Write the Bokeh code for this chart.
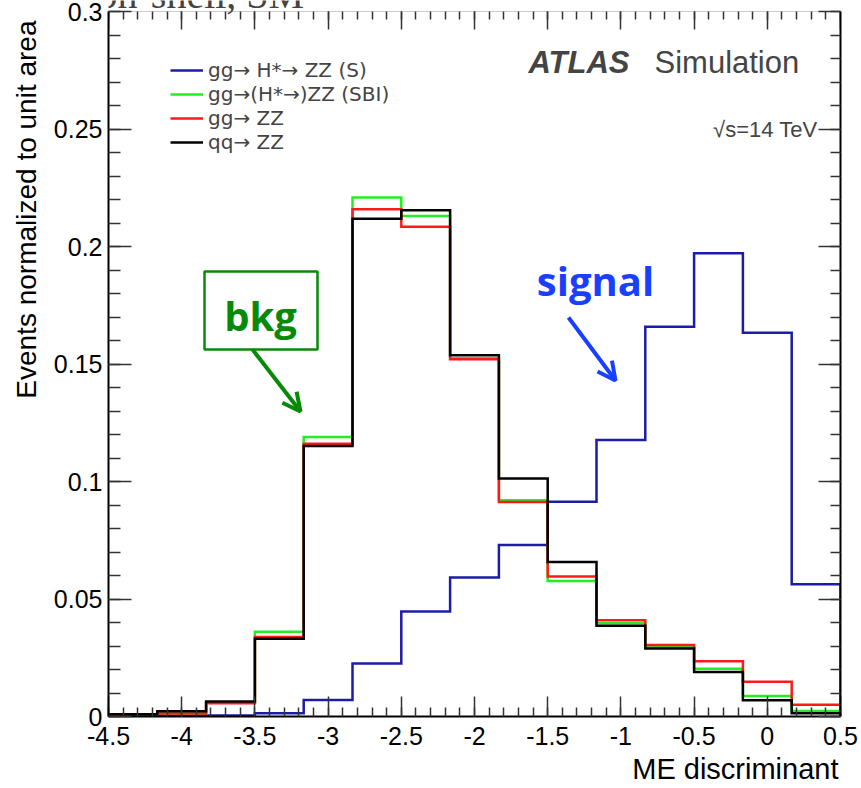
import numpy as np
from bokeh.plotting import figure
from bokeh.models import (Range1d, LinearAxis, FixedTicker, CustomJSTickFormatter,
                          Label, Arrow, OpenHead, BoxAnnotation, Legend, LegendItem, Title)
from bokeh.embed import file_html
from bokeh.resources import INLINE

# ME discriminant binning: 15 equal bins between -4.5 and 0.5
x_lo, x_hi, n_bins = -4.5, 0.5, 15
y_top = 0.3

# Normalised event fractions per bin
sig_S = [0.0000, 0.0002, 0.0004, 0.0014, 0.0070, 0.0226, 0.0447, 0.0591,
         0.0730, 0.0914, 0.1177, 0.1659, 0.1971, 0.1633, 0.0563]
sbi = [0.0004, 0.0013, 0.0058, 0.0361, 0.1189, 0.2208, 0.2130, 0.1525,
       0.0920, 0.0577, 0.0397, 0.0295, 0.0203, 0.0087, 0.0023]
gg_zz = [0.0004, 0.0013, 0.0056, 0.0338, 0.1161, 0.2158, 0.2084, 0.1520,
         0.0913, 0.0596, 0.0410, 0.0304, 0.0235, 0.0148, 0.0050]
qq_zz = [0.0010, 0.0022, 0.0064, 0.0331, 0.1151, 0.2118, 0.2154, 0.1537,
         0.1013, 0.0657, 0.0386, 0.0289, 0.0189, 0.0069, 0.0014]

labels = ["gg\u2192 H*\u2192 ZZ (S)", "gg\u2192(H*\u2192)ZZ (SBI)",
          "gg\u2192 ZZ", "qq\u2192 ZZ"]
colors = ["#1c1ca8", "#22ee22", "#ff1a1a", "#000000"]

x_ticks = [-4.5, -4.0, -3.5, -3.0, -2.5, -2.0, -1.5, -1.0, -0.5, 0.0, 0.5]
y_ticks = [0.0, 0.05, 0.1, 0.15, 0.2, 0.25, 0.3]

edges = np.linspace(x_lo, x_hi, n_bins + 1)


def outline(vals):
    """ROOT-style histogram outline, closed down to zero at both ends."""
    v = np.asarray(vals, dtype=float)
    xs = np.repeat(edges, 2)
    ys = np.concatenate([[0.0], np.repeat(v, 2), [0.0]])
    return xs, ys


FONT = "Liberation Sans"
W, H = 861, 788
B_LEFT, B_RIGHT, B_BOTTOM = 108, 21, 72
frame_w = W - B_LEFT - B_RIGHT          # 732 px for 5 units
frame_h = H - B_BOTTOM                  # frame reaches the canvas top
px_x = frame_w / (x_hi - x_lo)
px_y = 2350.0                           # px per unit on the y axis
y_end = frame_h / px_y                  # a little headroom above 0.3


def at(x_px, base_px, fs=0):
    """Canvas pixel position -> data position (text baseline corrected)."""
    return (x_lo + (x_px - B_LEFT) / px_x,
            (frame_h - (base_px - 0.38 * fs)) / px_y)


p = figure(width=W, height=H, x_range=Range1d(x_lo, x_hi), y_range=Range1d(0, y_end),
           output_backend="svg", toolbar_location=None,
           x_axis_location=None, y_axis_location=None,
           min_border_left=B_LEFT, min_border_right=B_RIGHT, min_border_top=0,
           min_border_bottom=B_BOTTOM)
p.outline_line_color = None
p.background_fill_color = "white"
p.border_fill_color = "white"
p.xgrid.visible = False
p.ygrid.visible = False

fmt = CustomJSTickFormatter(code="return String(Math.round(tick*100)/100);")
xt = FixedTicker(ticks=x_ticks, minor_ticks=list(np.round(np.arange(-4.5, 0.5001, 0.1), 2)))
yt = FixedTicker(ticks=y_ticks, minor_ticks=list(np.round(np.arange(0, 0.3001, 0.01), 3)))


def style_axis(ax, major, minor, line_color="black", line_width=2, show_labels=True):
    ax.major_tick_in = major
    ax.major_tick_out = 0
    ax.minor_tick_in = minor
    ax.minor_tick_out = 0
    ax.major_tick_line_color = "#333333"
    ax.minor_tick_line_color = "#333333"
    ax.major_tick_line_width = 1.5
    ax.minor_tick_line_width = 1.5
    ax.axis_line_color = line_color
    ax.axis_line_width = line_width
    ax.major_label_text_font = FONT
    if show_labels:
        ax.major_label_text_font_size = "25px"
        ax.major_label_text_color = "black"
    else:
        ax.major_label_text_color = None
        ax.major_label_standoff = 0


bottom = LinearAxis(ticker=xt, formatter=fmt)
style_axis(bottom, 20, 9)
bottom.major_label_standoff = 10
left = LinearAxis(ticker=yt, formatter=fmt, bounds=(0, y_top))
style_axis(left, 23, 12)
left.major_label_standoff = 6
top = LinearAxis(ticker=xt, formatter=fmt, fixed_location=y_top)
style_axis(top, 18, 8, line_color="#cccccc", line_width=1, show_labels=False)
right = LinearAxis(ticker=yt, formatter=fmt, bounds=(0, y_top))
style_axis(right, 22, 10, show_labels=False)

p.add_layout(bottom, "below")
p.add_layout(left, "left")
p.add_layout(top, "above")
p.add_layout(right, "right")

# Axis titles, aligned to the far end of each axis
p.add_layout(Title(text="ME discriminant", align="right", text_font=FONT, text_color="black",
                   text_font_size="29px", text_font_style="normal", standoff=6, offset=2), "below")
p.add_layout(Title(text="Events normalized to unit area", align="right", text_font=FONT,
                   text_color="black", text_font_size="28px", text_font_style="normal",
                   standoff=17, offset=20), "left")

# Histograms: signal first, then SBI, gg->ZZ and qq->ZZ on top
renderers = []
for vals, col in zip([sig_S, sbi, gg_zz, qq_zz], colors):
    xs, ys = outline(vals)
    r = p.line(xs, ys, line_color=col, line_width=2.5, line_join="miter")
    renderers.append(r)

legend = Legend(items=[LegendItem(label=l, renderers=[r]) for l, r in zip(labels, renderers)],
                location=(62, 562), margin=0, padding=0, spacing=0,
                glyph_width=33, glyph_height=18, label_height=18, label_standoff=5,
                label_text_font="DejaVu Sans", label_text_font_size="20px",
                label_text_line_height=0.9,
                border_line_color=None, background_fill_alpha=0)
p.add_layout(legend)

# Experiment tag and energy
x, y = at(528, 74, 31)
p.add_layout(Label(x=x, y=y, text="ATLAS", text_font=FONT, text_font_size="31px",
                   text_font_style="bold italic", text_baseline="alphabetic"))
x, y = at(654, 74, 31)
p.add_layout(Label(x=x, y=y, text="Simulation", text_font=FONT, text_font_size="31px",
                   text_baseline="alphabetic"))
x, y = at(817, 137, 22)
p.add_layout(Label(x=x, y=y, text="\u221as=14 TeV", text_font=FONT, text_font_size="22px",
                   text_align="right", text_baseline="alphabetic"))

# Selection title at the very top
x, y = at(97, 9, 40)
p.add_layout(Label(x=x, y=y, text="on-shell, SM", text_font="Liberation Serif",
                   text_font_size="40px", text_baseline="alphabetic"))

# Background / signal call-outs
green = "#078a07"
blue = "#1a40ff"
x0, y0 = at(204, 349)
x1, y1 = at(317, 271)
p.add_layout(BoxAnnotation(left=x0, right=x1, bottom=y0, top=y1,
                           fill_alpha=0, line_color=green, line_alpha=1.0, line_width=2.5))
x, y = at(260, 330, 40)
p.add_layout(Label(x=x, y=y, text="bkg", text_font="Open Sans", text_font_size="40px",
                   text_font_style="bold", text_color=green, text_align="center",
                   text_baseline="alphabetic"))
xa, ya = at(252, 349)
xb, yb = at(300, 411)
p.add_layout(Arrow(x_start=xa, y_start=ya, x_end=xb, y_end=yb,
                   line_color=green, line_width=4,
                   end=OpenHead(size=18, line_color=green, line_width=4)))
x, y = at(595, 295, 40)
p.add_layout(Label(x=x, y=y, text="signal", text_font="Open Sans", text_font_size="40px",
                   text_font_style="bold", text_color=blue, text_align="center",
                   text_baseline="alphabetic"))
xa, ya = at(568, 317)
xb, yb = at(615, 380)
p.add_layout(Arrow(x_start=xa, y_start=ya, x_end=xb, y_end=yb,
                   line_color=blue, line_width=4,
                   end=OpenHead(size=18, line_color=blue, line_width=4)))

open("out.html", "w").write(file_html(p, INLINE))
